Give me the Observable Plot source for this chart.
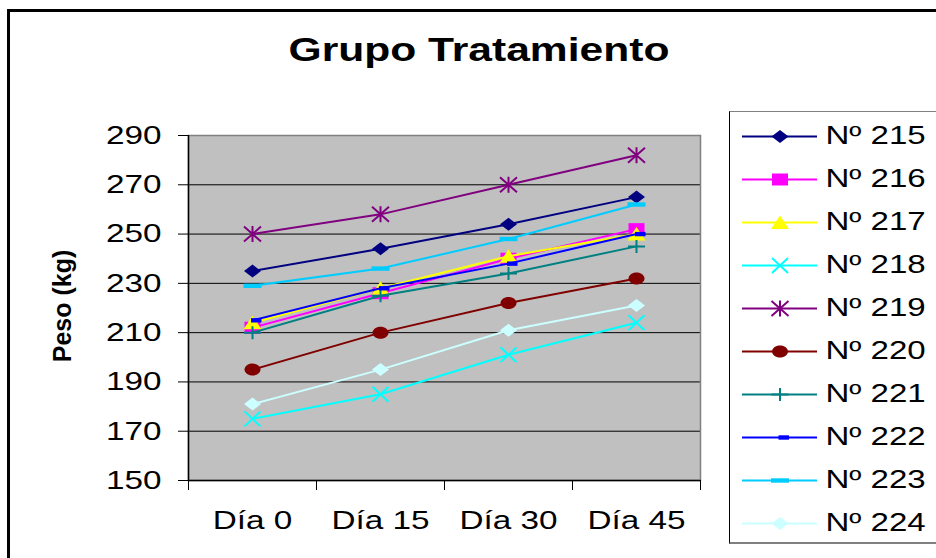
<!DOCTYPE html>
<html>
<head>
<meta charset="utf-8">
<script src="https://cdn.jsdelivr.net/npm/d3@7"></script>
<script src="https://cdn.jsdelivr.net/npm/@observablehq/plot@0.6"></script>
<style>
html, body { margin: 0; padding: 0; background: #fff; }
body { width: 936px; height: 558px; overflow: hidden; position: relative; font-family: "Liberation Sans", Arial, sans-serif; color: #000; }
#chart { position: absolute; left: 0; top: 0; }
#border { position: absolute; left: 7px; top: 9px; width: 1000px; height: 700px; border-left: 3px solid #000; border-top: 3px solid #000; pointer-events: none; }
#title { position: absolute; left: 478.5px; top: 33px; font-size: 33px; font-weight: bold; line-height: 33px; white-space: nowrap; transform: translateX(-50%) scaleX(1.29); }
#legend { position: absolute; left: 729px; top: 111px; width: 230px; height: 430px; border-left: 1px solid #000; border-top: 1px solid #808080; border-bottom: 2px solid #808080; background: #fff; }
#legend svg { display: block; }
</style>
</head>
<body>
<div id="chart"></div>
<div id="title">Grupo Tratamiento</div>
<div id="legend"></div>
<div id="border"></div>
<script>
// ---- data ----
const days = ["Día 0", "Día 15", "Día 30", "Día 45"];
const animals = ["Nº 215", "Nº 216", "Nº 217", "Nº 218", "Nº 219", "Nº 220", "Nº 221", "Nº 222", "Nº 223", "Nº 224"];
const n215 = [235, 244, 254, 265];
const n216 = [212, 226, 240, 252];
const n217 = [214, 228, 241, 250];
const n218 = [175, 185, 201, 214];
const n219 = [250, 258, 270, 282];
const n220 = [195, 210, 222, 232];
const n221 = [210, 225, 234, 245];
const n222 = [215, 228, 238, 250];
const n223 = [229, 236, 248, 262];
const n224 = [181, 195, 211, 221];
const pesos = [n215, n216, n217, n218, n219, n220, n221, n222, n223, n224];
const yTicks = [150, 170, 190, 210, 230, 250, 270, 290];
const colors = ["#000080", "#FF00FF", "#FFFF00", "#00FFFF", "#800080", "#800000", "#008080", "#0000FF", "#00CCFF", "#CCFFFF"];

// ---- marker shapes (horizontally stretched like the original) ----
function poly(pts) {
  return { draw(c) { c.moveTo(pts[0][0], pts[0][1]); for (let i = 1; i < pts.length; i++) c.lineTo(pts[i][0], pts[i][1]); c.closePath(); } };
}
function segs(list) {
  return { draw(c) { for (const s of list) { c.moveTo(s[0], s[1]); c.lineTo(s[2], s[3]); } } };
}
const ellipse = { draw(c) {
  const rx = 8, ry = 6, k = 0.5523;
  c.moveTo(rx, 0);
  c.bezierCurveTo(rx, ry * k, rx * k, ry, 0, ry);
  c.bezierCurveTo(-rx * k, ry, -rx, ry * k, -rx, 0);
  c.bezierCurveTo(-rx, -ry * k, -rx * k, -ry, 0, -ry);
  c.bezierCurveTo(rx * k, -ry, rx, -ry * k, rx, 0);
  c.closePath();
} };
const diamond = poly([[0, -6.5], [8.5, 0], [0, 6.5], [-8.5, 0]]);
const square = poly([[-8, -6], [8, -6], [8, 6], [-8, 6]]);
const triangle = poly([[0, -7], [9, 6.5], [-9, 6.5]]);
const times = segs([[-8, -7.5, 8, 7.5], [-8, 7.5, 8, -7.5]]);
const asterisk = segs([[-8.5, -7.5, 8.5, 7.5], [-8.5, 7.5, 8.5, -7.5], [0, -8, 0, 8]]);
const plus = segs([[-8.5, 0, 8.5, 0], [0, -6.5, 0, 6.5]]);
const dashShort = poly([[-1.5, -2.2], [9, -2.2], [9, 2.2], [-1.5, 2.2]]);
const dashLong = poly([[-9, -2.2], [9, -2.2], [9, 2.2], [-9, 2.2]]);
const markers = [
  { symbol: diamond, filled: true },
  { symbol: square, filled: true },
  { symbol: triangle, filled: true },
  { symbol: times, filled: false },
  { symbol: asterisk, filled: false },
  { symbol: ellipse, filled: true },
  { symbol: plus, filled: false },
  { symbol: dashShort, filled: true },
  { symbol: dashLong, filled: true },
  { symbol: diamond, filled: true }
];
function markStyle(i) {
  const m = markers[i];
  return m.filled
    ? { symbol: m.symbol, fill: colors[i], stroke: "none" }
    : { symbol: m.symbol, fill: "none", stroke: colors[i], strokeWidth: 2 };
}

// ---- main chart ----
const rows = animals.flatMap((a, i) => pesos[i].map((p, j) => ({ animal: a, day: j, peso: p })));
const xDomain = [-0.5, days.length - 0.5];
const bounds = d3.range(days.length + 1).map(i => i - 0.5);

const seriesMarks = animals.flatMap((a, i) => {
  const data = rows.filter(d => d.animal === a);
  return [
    Plot.line(data, { x: "day", y: "peso", stroke: colors[i], strokeWidth: 2 }),
    Plot.dot(data, { x: "day", y: "peso", ...markStyle(i) })
  ];
});

const chart = Plot.plot({
  width: 936,
  height: 558,
  marginLeft: 188,
  marginRight: 236,
  marginTop: 135,
  marginBottom: 78,
  style: { background: "transparent", fontFamily: "'Liberation Sans', Arial, sans-serif", fontSize: "26px", color: "#000" },
  x: { type: "linear", domain: xDomain },
  y: { domain: [150, 290] },
  marks: [
    Plot.frame({ fill: "#C0C0C0", stroke: "none" }),
    Plot.gridY(yTicks, { stroke: "#000", strokeOpacity: 1, strokeWidth: 1 }),
    Plot.frame({ stroke: "#808080", strokeWidth: 1.5 }),
    Plot.ruleX([xDomain[0]], { stroke: "#000", strokeWidth: 1.5 }),
    Plot.ruleY([150], { stroke: "#000", strokeWidth: 1.5 }),
    Plot.axisY(yTicks, { tickSize: 10, tickPadding: 17, label: null, stroke: "#000" }),
    Plot.axisX(bounds, { tickSize: 10, tickFormat: () => "", label: null, stroke: "#000" }),
    Plot.axisX(d3.range(days.length), { tickSize: 0, tickPadding: 30, tickFormat: i => days[i], label: null }),
    Plot.text(["Peso (kg)"], { frameAnchor: "left", textAnchor: "middle", rotate: -90, dx: -126, dy: -2, fontWeight: "bold", fontSize: 25 }),
    ...seriesMarks
  ]
});
document.getElementById("chart").appendChild(chart);

// ---- legend ----
const legendMarks = animals.flatMap((a, i) => [
  Plot.ruleY([a], { stroke: colors[i], strokeWidth: 2 }),
  Plot.dot([a], { y: d => d, ...markStyle(i) })
]);
const legend = Plot.plot({
  width: 230,
  height: 430,
  marginLeft: 12,
  marginRight: 143,
  marginTop: 23,
  marginBottom: 18,
  style: { background: "transparent", fontFamily: "'Liberation Sans', Arial, sans-serif", fontSize: "26px", color: "#000" },
  y: { type: "point", domain: animals, padding: 0, axis: null },
  marks: [
    ...legendMarks,
    Plot.text(animals, { y: d => d, frameAnchor: "right", dx: 8, dy: -1, textAnchor: "start", fontSize: 26 })
  ]
});
document.getElementById("legend").appendChild(legend);

// ---- horizontal stretch of the text, like the original picture ----
function stretch(nodes, k) {
  nodes.forEach(t => {
    const L = t.getComputedTextLength();
    if (L > 0) {
      t.setAttribute("textLength", (L * k).toFixed(1));
      t.setAttribute("lengthAdjust", "spacingAndGlyphs");
    }
  });
}
stretch(chart.querySelectorAll('g[aria-label$="tick label"] text'), 1.28);
stretch(legend.querySelectorAll("text"), 1.27);
</script>
</body>
</html>
